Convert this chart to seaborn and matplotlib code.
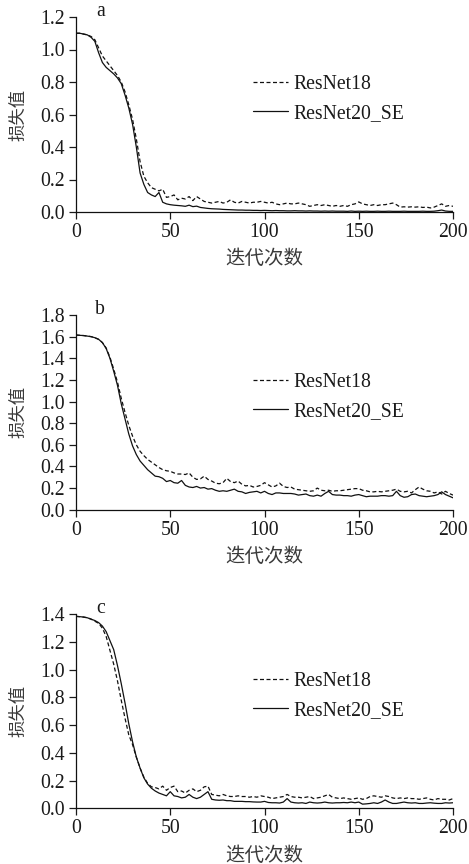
import numpy as np
import pandas as pd
import matplotlib
matplotlib.use("Agg")
import matplotlib.pyplot as plt
import seaborn as sns

sns.set_theme(style="ticks")
plt.rcParams["font.family"] = ["Liberation Serif", "Noto Sans CJK SC", "DejaVu Sans"]
plt.rcParams["axes.unicode_minus"] = False

# Epochs sampled every 2 iterations
epochs = list(range(0, 201, 2))

models = ["ResNet18", "ResNet20_SE"]
xlabel = "迭代次数"
ylabel = "损失值"
panel_letters = ["a", "b", "c"]
ylims = [1.2, 1.8, 1.4]
yticks_a = [0.0, 0.2, 0.4, 0.6, 0.8, 1.0, 1.2]
yticks_b = [0.0, 0.2, 0.4, 0.6, 0.8, 1.0, 1.2, 1.4, 1.6, 1.8]
yticks_c = [0.0, 0.2, 0.4, 0.6, 0.8, 1.0, 1.2, 1.4]
xticks = [0, 50, 100, 150, 200]

# ---- panel a ----
a_resnet18 = [
    1.10, 1.10, 1.095, 1.09, 1.08, 1.06, 1.01, 0.96, 0.93, 0.90,
    0.87, 0.84, 0.80, 0.74, 0.66, 0.57, 0.45, 0.31, 0.22, 0.18,
    0.15, 0.14, 0.13, 0.14, 0.09, 0.095, 0.105, 0.075, 0.085, 0.08,
    0.095, 0.07, 0.095, 0.08, 0.065, 0.06, 0.055, 0.06, 0.065, 0.055,
    0.06, 0.075, 0.06, 0.055, 0.065, 0.06, 0.055, 0.06, 0.06, 0.065,
    0.06, 0.055, 0.06, 0.05, 0.045, 0.05, 0.055, 0.05, 0.05, 0.055,
    0.05, 0.045, 0.035, 0.04, 0.045, 0.04, 0.045, 0.04, 0.035, 0.04,
    0.035, 0.04, 0.035, 0.045, 0.05, 0.062, 0.05, 0.045, 0.04, 0.045,
    0.04, 0.045, 0.045, 0.05, 0.055, 0.045, 0.03, 0.032, 0.03, 0.032,
    0.03, 0.032, 0.028, 0.03, 0.025, 0.03, 0.04, 0.05, 0.035, 0.04,
    0.035,
]
a_resnet20_se = [
    1.10, 1.10, 1.095, 1.09, 1.075, 1.05, 0.98, 0.92, 0.89, 0.87,
    0.85, 0.825, 0.79, 0.72, 0.64, 0.54, 0.40, 0.24, 0.17, 0.12,
    0.105, 0.095, 0.12, 0.06, 0.05, 0.045, 0.042, 0.04, 0.038, 0.035,
    0.042, 0.033, 0.036, 0.028, 0.025, 0.022, 0.02, 0.019, 0.018, 0.016,
    0.015, 0.014, 0.013, 0.012, 0.012, 0.011, 0.011, 0.010, 0.010, 0.009,
    0.010, 0.009, 0.008, 0.009, 0.008, 0.008, 0.007, 0.007, 0.008, 0.007,
    0.007, 0.006, 0.007, 0.006, 0.006, 0.005, 0.006, 0.005, 0.006, 0.005,
    0.005, 0.005, 0.004, 0.006, 0.004, 0.005, 0.004, 0.005, 0.004, 0.004,
    0.005, 0.004, 0.004, 0.005, 0.004, 0.004, 0.004, 0.005, 0.004, 0.004,
    0.004, 0.004, 0.005, 0.004, 0.004, 0.005, 0.008, 0.012, 0.006, 0.004,
    0.004,
]

# ---- panel b ----
b_resnet18 = [
    1.615, 1.612, 1.61, 1.605, 1.60, 1.59, 1.575, 1.545, 1.495, 1.41,
    1.30, 1.18, 1.03, 0.90, 0.78, 0.68, 0.60, 0.54, 0.50, 0.465,
    0.44, 0.415, 0.39, 0.37, 0.36, 0.355, 0.34, 0.33, 0.33, 0.325,
    0.34, 0.30, 0.28, 0.285, 0.31, 0.28, 0.265, 0.245, 0.24, 0.25,
    0.29, 0.26, 0.25, 0.265, 0.235, 0.22, 0.225, 0.21, 0.215, 0.225,
    0.25, 0.23, 0.21, 0.22, 0.245, 0.215, 0.205, 0.21, 0.19, 0.185,
    0.18, 0.175, 0.17, 0.175, 0.20, 0.18, 0.175, 0.18, 0.17, 0.175,
    0.175, 0.18, 0.185, 0.19, 0.195, 0.195, 0.18, 0.175, 0.165, 0.165,
    0.17, 0.165, 0.17, 0.175, 0.18, 0.19, 0.17, 0.165, 0.17, 0.155,
    0.185, 0.21, 0.19, 0.175, 0.17, 0.155, 0.165, 0.145, 0.17, 0.15,
    0.135,
]
b_resnet20_se = [
    1.615, 1.612, 1.61, 1.605, 1.60, 1.59, 1.575, 1.545, 1.49, 1.40,
    1.28, 1.15, 0.98, 0.84, 0.70, 0.59, 0.51, 0.45, 0.41, 0.37,
    0.34, 0.31, 0.305, 0.29, 0.26, 0.27, 0.25, 0.245, 0.27, 0.225,
    0.21, 0.205, 0.215, 0.20, 0.205, 0.19, 0.195, 0.18, 0.17, 0.175,
    0.17, 0.18, 0.19, 0.17, 0.165, 0.15, 0.16, 0.165, 0.17, 0.155,
    0.17, 0.15, 0.14, 0.155, 0.155, 0.15, 0.15, 0.15, 0.145, 0.135,
    0.14, 0.145, 0.13, 0.125, 0.135, 0.125, 0.15, 0.17, 0.14, 0.135,
    0.135, 0.13, 0.13, 0.125, 0.135, 0.14, 0.13, 0.12, 0.125, 0.125,
    0.125, 0.13, 0.13, 0.125, 0.13, 0.17, 0.13, 0.115, 0.12, 0.14,
    0.145, 0.13, 0.125, 0.12, 0.125, 0.13, 0.14, 0.165, 0.14, 0.125,
    0.11,
]

# ---- panel c ----
c_resnet18 = [
    1.385, 1.383, 1.38, 1.375, 1.365, 1.35, 1.335, 1.30, 1.24, 1.14,
    1.04, 0.92, 0.78, 0.65, 0.53, 0.46, 0.37, 0.29, 0.225, 0.18,
    0.155, 0.15, 0.14, 0.16, 0.13, 0.15, 0.16, 0.12, 0.125, 0.11,
    0.13, 0.14, 0.12, 0.13, 0.155, 0.16, 0.10, 0.095, 0.09, 0.10,
    0.09, 0.085, 0.085, 0.09, 0.085, 0.085, 0.08, 0.085, 0.08, 0.09,
    0.085, 0.08, 0.07, 0.075, 0.08, 0.085, 0.10, 0.085, 0.08, 0.08,
    0.075, 0.08, 0.085, 0.07, 0.075, 0.08, 0.09, 0.10, 0.08, 0.075,
    0.07, 0.075, 0.07, 0.065, 0.07, 0.075, 0.065, 0.07, 0.085, 0.09,
    0.085, 0.08, 0.09, 0.085, 0.075, 0.07, 0.075, 0.07, 0.075, 0.07,
    0.07, 0.065, 0.07, 0.075, 0.065, 0.06, 0.07, 0.065, 0.065, 0.06,
    0.07,
]
c_resnet20_se = [
    1.385, 1.383, 1.38, 1.375, 1.365, 1.355, 1.34, 1.315, 1.275, 1.21,
    1.145, 1.03, 0.90, 0.76, 0.61, 0.48, 0.37, 0.29, 0.22, 0.175,
    0.145, 0.125, 0.11, 0.10, 0.09, 0.12, 0.09, 0.085, 0.075, 0.08,
    0.10, 0.08, 0.07, 0.08, 0.10, 0.12, 0.065, 0.06, 0.058, 0.06,
    0.055, 0.055, 0.05, 0.05, 0.05, 0.048, 0.048, 0.046, 0.045, 0.045,
    0.05, 0.042, 0.04, 0.04, 0.038, 0.045, 0.07, 0.045, 0.04, 0.038,
    0.04, 0.035, 0.045, 0.04, 0.038, 0.04, 0.045, 0.04, 0.038, 0.04,
    0.04, 0.042, 0.04, 0.045, 0.04, 0.045, 0.03, 0.032, 0.035, 0.04,
    0.035, 0.045, 0.06, 0.045, 0.035, 0.035, 0.04, 0.045, 0.04, 0.038,
    0.04, 0.035, 0.035, 0.038, 0.04, 0.037, 0.035, 0.035, 0.04, 0.038,
    0.04,
]

panels = [
    (a_resnet18, a_resnet20_se, yticks_a),
    (b_resnet18, b_resnet20_se, yticks_b),
    (c_resnet18, c_resnet20_se, yticks_c),
]

W, H, DPI = 469, 864, 100
fig = plt.figure(figsize=(W / DPI, H / DPI), dpi=DPI)

# axes boxes in pixels: (left, top, right, bottom)
boxes = [(76, 17, 453, 212), (76, 315, 453, 509.7), (76, 614.3, 453, 808.3)]

text_color = "#1a1a1a"
cjk_color = "#3a3a3a"
serif = ["Liberation Serif", "DejaVu Serif"]
cjk = ["Noto Sans CJK SC", "DejaVu Sans"]
fs = 14.2

for i, ((r18, r20, yt), box) in enumerate(zip(panels, boxes)):
    l, t, r, b = box
    ax = fig.add_axes([l / W, 1 - b / H, (r - l) / W, (b - t) / H])
    df = pd.DataFrame({
        "epoch": epochs * 2,
        "loss": r18 + r20,
        "model": [models[0]] * len(epochs) + [models[1]] * len(epochs),
    })
    sns.lineplot(
        data=df, x="epoch", y="loss", style="model", style_order=models,
        dashes={models[0]: (3.2, 2.0), models[1]: ""},
        color="#111111", linewidth=0.9, ax=ax, legend=True,
    )
    ax.set_xlim(0, 200)
    ax.set_ylim(0, ylims[i])
    ax.set_xticks(xticks)
    ax.set_yticks(yt)
    ax.set_xticklabels([str(v) for v in xticks], fontfamily=serif, fontsize=fs, color=text_color)
    ax.set_yticklabels([f"{v:.1f}" for v in yt], fontfamily=serif, fontsize=fs, color=text_color)
    ax.tick_params(axis="both", direction="out", length=5, width=0.9, colors=text_color)
    ax.tick_params(axis="x", pad=3)
    ax.tick_params(axis="y", pad=3)
    for s in ["top", "right"]:
        ax.spines[s].set_visible(False)
    for s in ["left", "bottom"]:
        ax.spines[s].set_linewidth(0.9)
        ax.spines[s].set_color("#111111")
    ax.set_xlabel(xlabel, fontfamily=cjk, fontsize=14, color=cjk_color, labelpad=4.5)
    ax.set_ylabel(ylabel, fontfamily=cjk, fontsize=12.5, color=cjk_color, labelpad=9)
    ax.text(0.064, 1.03, panel_letters[i], transform=ax.transAxes, ha="center", va="center",
            fontfamily=serif, fontsize=fs, color=text_color)
    handles, labels = ax.get_legend_handles_labels()
    leg = ax.legend(handles, labels, loc="upper left", bbox_to_anchor=(0.4695, 0.703),
                    frameon=False, borderaxespad=0, borderpad=0, handlelength=1.75,
                    handletextpad=0.3, labelspacing=0.5,
                    prop={"family": serif, "size": fs})
    for txt in leg.get_texts():
        txt.set_color(text_color)

fig.savefig("out.png", dpi=DPI)
